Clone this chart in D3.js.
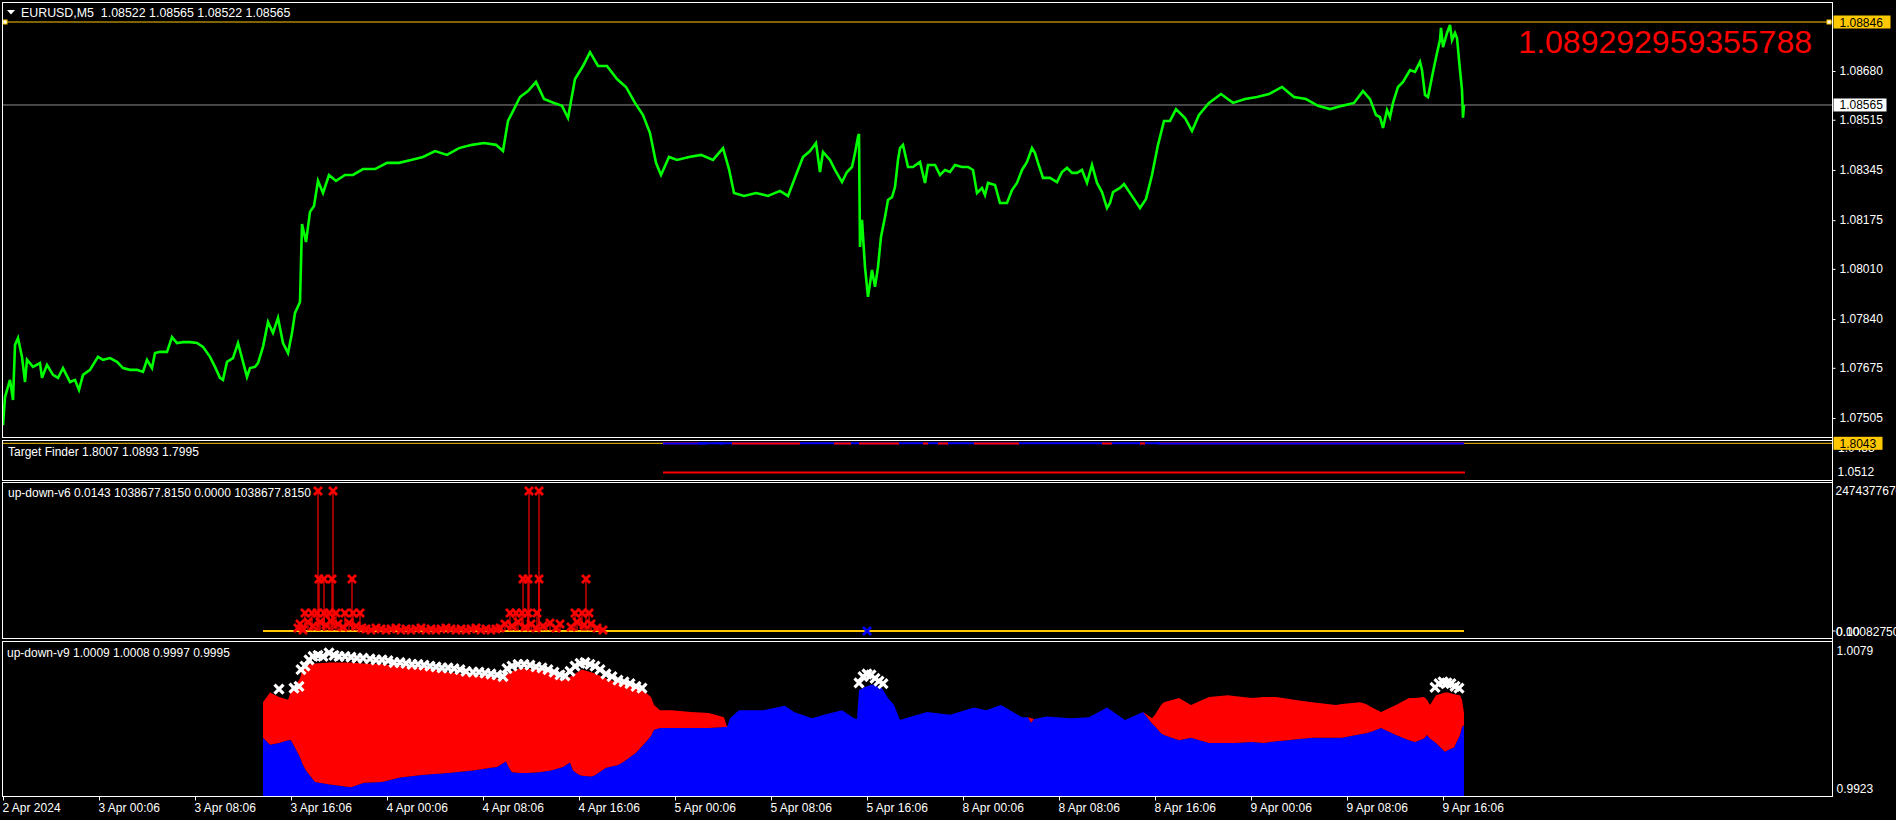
<!DOCTYPE html>
<html>
<head>
<meta charset="utf-8">
<script src="https://cdn.jsdelivr.net/npm/d3@7"></script>
<style>
  html, body { margin: 0; padding: 0; background: #000; overflow: hidden; }
  svg { display: block; font-family: "Liberation Sans", Arial, sans-serif; }
</style>
</head>
<body>
<svg id="chart" width="1896" height="820"></svg>
<script>
// ---- data ----
const symbolTitle = "EURUSD,M5  1.08522 1.08565 1.08522 1.08565";
const bigLevelText = "1.089292959355788";

// close price per bar index (M5 bars, one pixel each)
const closeSeries = [
  [0,1.07481],[2,1.07576],[7,1.07634],[10,1.07566],[12,1.07752],[15,1.07776],[19,1.07712],[22,1.07627],[24,1.07702],[30,1.07678],
  [37,1.07691],[39,1.07641],[44,1.07685],[50,1.07651],[55,1.07641],[60,1.07674],[67,1.07627],[72,1.07634],[76,1.07600],[80,1.07651],
  [87,1.07668],[95,1.07712],[100,1.07702],[107,1.07708],[114,1.07695],[120,1.07674],[127,1.07668],[134,1.07668],[140,1.07661],[144,1.07702],
  [149,1.07674],[152,1.07725],[157,1.07729],[164,1.07729],[169,1.07779],[174,1.07759],[180,1.07762],[187,1.07762],[194,1.07759],[200,1.07746],
  [207,1.07712],[212,1.07678],[217,1.07641],[220,1.07634],[224,1.07695],[230,1.07708],[235,1.07759],[239,1.07708],[244,1.07644],[247,1.07674],
  [252,1.07678],[255,1.07691],[260,1.07746],[265,1.07830],[270,1.07793],[275,1.07844],[280,1.07759],[285,1.07725],[289,1.07793],[292,1.07861],
  [297,1.07898],[299,1.08162],[303,1.08101],[307,1.08203],[311,1.08223],[315,1.08308],[320,1.08267],[326,1.08328],[333,1.08308],[342,1.08328],
  [350,1.08328],[360,1.08348],[372,1.08348],[384,1.08369],[396,1.08369],[408,1.08379],[420,1.08389],[432,1.08409],[444,1.08396],[456,1.08419],
  [469,1.08430],[481,1.08436],[493,1.08430],[500,1.08409],[505,1.08511],[511,1.08551],[517,1.08592],[525,1.08612],[533,1.08643],[541,1.08585],
  [551,1.08572],[559,1.08562],[565,1.08521],[572,1.08653],[580,1.08697],[587,1.08744],[595,1.08697],[604,1.08697],[614,1.08653],[623,1.08626],
  [632,1.08572],[640,1.08531],[647,1.08470],[653,1.08369],[658,1.08328],[666,1.08389],[674,1.08379],[686,1.08389],[698,1.08396],[710,1.08379],
  [720,1.08419],[726,1.08348],[731,1.08267],[741,1.08257],[753,1.08267],[765,1.08257],[777,1.08274],[785,1.08257],[793,1.08328],[800,1.08389],
  [807,1.08409],[813,1.08436],[817,1.08338],[820,1.08406],[827,1.08379],[832,1.08345],[839,1.08304],[844,1.08338],[849,1.08355],[852,1.08402],
  [855,1.08457],[856,1.08467],[857,1.08084],[859,1.08176],[862,1.08016],[865,1.07915],[869,1.08006],[872,1.07949],[875,1.08016],[878,1.08118],
  [882,1.08186],[885,1.08243],[889,1.08253],[892,1.08287],[895,1.08379],[897,1.08419],[900,1.08430],[905,1.08355],[910,1.08355],[917,1.08372],
  [922,1.08301],[925,1.08362],[932,1.08362],[937,1.08328],[942,1.08345],[947,1.08338],[952,1.08362],[959,1.08355],[965,1.08355],[970,1.08345],
  [974,1.08267],[979,1.08284],[982,1.08260],[985,1.08301],[992,1.08294],[997,1.08233],[1004,1.08233],[1009,1.08277],[1014,1.08301],[1019,1.08345],
  [1024,1.08372],[1029,1.08419],[1032,1.08402],[1035,1.08369],[1040,1.08318],[1047,1.08318],[1054,1.08304],[1059,1.08338],[1064,1.08352],[1069,1.08335],
  [1074,1.08335],[1079,1.08345],[1084,1.08301],[1089,1.08362],[1094,1.08301],[1099,1.08270],[1104,1.08216],[1107,1.08233],[1110,1.08270],[1117,1.08284],
  [1121,1.08297],[1131,1.08247],[1137,1.08216],[1143,1.08247],[1149,1.08328],[1155,1.08430],[1161,1.08511],[1167,1.08511],[1173,1.08551],[1182,1.08521],
  [1189,1.08477],[1196,1.08531],[1206,1.08572],[1218,1.08602],[1230,1.08572],[1242,1.08585],[1254,1.08592],[1266,1.08602],[1279,1.08626],[1291,1.08592],
  [1303,1.08585],[1315,1.08562],[1327,1.08551],[1339,1.08562],[1351,1.08572],[1360,1.08612],[1367,1.08585],[1373,1.08531],[1377,1.08524],[1380,1.08487],
  [1384,1.08548],[1387,1.08524],[1390,1.08572],[1395,1.08626],[1400,1.08643],[1407,1.08683],[1412,1.08677],[1417,1.08711],[1419,1.08683],[1422,1.08599],
  [1425,1.08592],[1429,1.08660],[1430,1.08677],[1434,1.08741],[1437,1.08785],[1438,1.08826],[1440,1.08761],[1444,1.08809],[1447,1.08836],[1449,1.08785],
  [1452,1.08809],[1454,1.08792],[1457,1.08683],[1459,1.08616],[1460,1.08522],[1461,1.08565]
];
const highLevel = 1.08846;
const lastClose = 1.08565;
const priceTicks = [1.08680, 1.08515, 1.08345, 1.08175, 1.08010, 1.07840, 1.07675, 1.07505];

// time axis
const timeTickBars = [0, 96, 192, 288, 384, 480, 576, 672, 768, 864, 960, 1056, 1152, 1248, 1344, 1440];
const timeLabels = ["2 Apr 2024", "3 Apr 00:06", "3 Apr 08:06", "3 Apr 16:06", "4 Apr 00:06", "4 Apr 08:06",
  "4 Apr 16:06", "5 Apr 00:06", "5 Apr 08:06", "5 Apr 16:06", "8 Apr 00:06", "8 Apr 08:06",
  "8 Apr 16:06", "9 Apr 00:06", "9 Apr 08:06", "9 Apr 16:06"];

// Target Finder pane
const tfTitle = "Target Finder 1.8007 1.0893 1.7995";
const tfLevel = 1.8043;
const tfUpper = 1.8070, tfLower = 1.8017, tfBase = 1.0362;
const tfUpperRed = [[660, 695], [1157, 1461]];
const tfUpperBlue = [[695, 1157]];
const tfLowerBlue = [[660, 704], [716, 720], [1155, 1461]];
const tfLowerRed = [[729, 797], [831, 848], [856, 896], [920, 925], [935, 945], [971, 1016], [1099, 1109], [1137, 1142]];
const tfBaseRange = [660, 1462];
const tfAxisMin = 1.0512;

// up-down-v6 pane: [bar, value]
const v6Title = "up-down-v6 0.0143 1038677.8150 0.0000 1038677.8150";
const v6Max = 2474377670;
const v6Red = [
  [315,2474377670],[330,2474377670],[526,2474377670],[536,2474377670],
  [316,919000000],[321,919000000],[329,919000000],[349,919000000],[520,919000000],[525,919000000],[536,919000000],[583,919000000],
  [302,318000000],[309,318000000],[314,318000000],[321,318000000],[326,318000000],[333,318000000],[342,318000000],[350,318000000],[357,318000000],
  [507,318000000],[513,318000000],[519,318000000],[525,318000000],[534,318000000],[572,318000000],[579,318000000],[586,318000000],
  [295,53000000],[297,124000000],[300,18000000],[305,159000000],[310,88000000],[317,159000000],[323,106000000],[328,177000000],[335,124000000],
  [340,71000000],[346,141000000],[353,88000000],[359,53000000],
  [363,35000000],[368,18000000],[373,53000000],[378,35000000],[383,18000000],[388,35000000],[393,53000000],[398,18000000],[403,35000000],
  [408,18000000],[413,35000000],[418,53000000],[423,18000000],[428,35000000],[433,18000000],[438,35000000],[443,53000000],[448,35000000],
  [453,18000000],[458,35000000],[463,18000000],[468,35000000],[473,53000000],[478,18000000],[483,35000000],[488,18000000],[493,35000000],[497,53000000],
  [502,124000000],[509,88000000],[515,159000000],[522,71000000],[528,124000000],[533,53000000],[540,88000000],[547,141000000],[553,53000000],
  [557,124000000],[568,71000000],[574,159000000],[581,106000000],[588,124000000],[594,53000000],[600,18000000]
];
const v6Blue = [[864, 0]];
const v6BaseRange = [260, 1461];

// up-down-v9 pane: [bar, upper, lower]; red between lower and upper, blue below lower
const v9Title = "up-down-v9 1.0009 1.0008 0.9997 0.9995";
const v9Min = 0.9923, v9Max = 1.0079;
const v9Series = [
  [260,1.0021,0.9981],[267,1.0032,0.9973],[276,1.0027,0.9975],[285,1.0024,0.9978],[288,1.0033,0.9978],[297,1.0048,0.9959],
  [300,1.0061,0.9950],[303,1.0063,0.9944],[312,1.0065,0.9931],[327,1.0066,0.9928],[348,1.0066,0.9925],[361,1.0065,0.9930],
  [379,1.0064,0.9931],[397,1.0062,0.9936],[421,1.0060,0.9939],[445,1.0055,0.9941],[470,1.0052,0.9944],[488,1.0050,0.9947],
  [494,1.0048,0.9948],[500,1.0046,0.9952],[503,1.0051,0.9954],[506,1.0054,0.9947],[509,1.0056,0.9942],[518,1.0060,0.9941],
  [524,1.0059,0.9941],[536,1.0058,0.9942],[548,1.0054,0.9944],[560,1.0046,0.9948],[567,1.0050,0.9953],[570,1.0052,0.9944],
  [576,1.0056,0.9939],[579,1.0058,0.9938],[588,1.0055,0.9937],[591,1.0054,0.9938],[603,1.0048,0.9947],[615,1.0043,0.9950],
  [621,1.0041,0.9954],[633,1.0038,0.9964],[642,1.0033,0.9975],[648,1.0027,0.9983],[651,1.0018,0.9990],[657,1.0012,0.9992],
  [669,1.0012,0.9992],[688,1.0010,0.9992],[706,1.0009,0.9992],[721,1.0004,0.9993],[724,0.9993,0.9993],
  [727,1.0003,1.0003],[736,1.0012,1.0012],[760,1.0012,1.0012],[782,1.0017,1.0017],[791,1.0010,1.0010],[809,1.0003,1.0003],
  [821,1.0007,1.0007],[839,1.0012,1.0012],[851,1.0003,1.0003],[854,1.0002,1.0002],[856,1.0035,1.0035],[863,1.0039,1.0039],
  [869,1.0041,1.0041],[879,1.0037,1.0037],[885,1.0026,1.0026],[891,1.0018,1.0018],[897,1.0001,1.0001],[906,1.0004,1.0004],
  [924,1.0010,1.0010],[947,1.0007,1.0007],[971,1.0015,1.0015],[983,1.0012,1.0012],[998,1.0018,1.0018],[1007,1.0012,1.0012],
  [1019,1.0004,1.0004],[1025,1.0004,1.0004],[1028,1.0003,0.9998],[1031,1.0002,1.0002],[1044,1.0005,1.0005],[1068,1.0003,1.0003],
  [1086,1.0004,1.0004],[1104,1.0015,1.0015],[1122,1.0001,1.0001],[1140,1.0010,1.0010],[1149,1.0003,0.9997],
  [1152,1.0007,0.9994],[1158,1.0018,0.9986],[1161,1.0021,0.9984],[1176,1.0026,0.9978],[1188,1.0018,0.9981],[1206,1.0027,0.9975],
  [1225,1.0029,0.9975],[1231,1.0028,0.9975],[1249,1.0026,0.9976],[1261,1.0027,0.9975],[1273,1.0027,0.9977],[1285,1.0025,0.9978],
  [1291,1.0024,0.9979],[1309,1.0021,0.9981],[1333,1.0018,0.9981],[1339,1.0019,0.9981],[1357,1.0021,0.9985],[1363,1.0019,0.9986],
  [1369,1.0015,0.9988],[1378,1.0010,0.9992],[1393,1.0018,0.9984],[1406,1.0026,0.9978],[1412,1.0026,0.9976],[1421,1.0027,0.9980],
  [1424,1.0024,0.9984],[1427,1.0018,0.9980],[1433,1.0029,0.9975],[1442,1.0032,0.9965],[1445,1.0032,0.9967],[1451,1.0030,0.9970],
  [1457,1.0029,0.9984],[1459,1.0024,0.9993],[1461,1.0009,0.9995]
];
const v9Marks = [
  [276,1.0036],[291,1.0037],[296,1.0039],[298,1.0058],[302,1.0062],[306,1.0069],[310,1.0073],[315,1.0074],[320,1.0073],[326,1.0077],
  [331,1.0074],[336,1.0073],[342,1.0073],[348,1.0072],[354,1.0071],[360,1.0071],[367,1.0070],[373,1.0069],[379,1.0069],[385,1.0068],
  [391,1.0066],[397,1.0066],[403,1.0065],[409,1.0064],[415,1.0064],[421,1.0063],[427,1.0062],[433,1.0061],[439,1.0060],[445,1.0060],
  [451,1.0059],[457,1.0058],[463,1.0056],[470,1.0055],[476,1.0055],[482,1.0054],[488,1.0053],[494,1.0052],[500,1.0050],[504,1.0059],
  [509,1.0062],[515,1.0064],[521,1.0064],[527,1.0063],[533,1.0061],[539,1.0060],[545,1.0058],[551,1.0055],[557,1.0052],[562,1.0051],
  [567,1.0056],[572,1.0062],[577,1.0065],[582,1.0066],[587,1.0064],[592,1.0062],[597,1.0058],[603,1.0053],[609,1.0050],[615,1.0046],
  [621,1.0044],[627,1.0042],[633,1.0039],[639,1.0037],
  [856,1.0043],[860,1.0050],[864,1.0053],[868,1.0052],[872,1.0048],[876,1.0045],[880,1.0042],
  [1432,1.0038],[1436,1.0042],[1440,1.0044],[1444,1.0043],[1448,1.0042],[1452,1.0039],[1456,1.0037]
];

// ---- layout ----
const W = 1896, H = 820;
const left = 2.5, right = 1832.5;
const panes = {
  main: { top: 2.5, bottom: 437.5 },
  tf:   { top: 440.5, bottom: 480.5 },
  v6:   { top: 482.5, bottom: 638.5 },
  v9:   { top: 641.5, bottom: 796.5 }
};
const WHITE = "#ffffff", GOLD = "#ffc800", RED = "#ff0000", BLUE = "#0000ff", GREEN = "#00ff00";

let svg = d3.select("#chart");
svg.append("rect").attr("width", W).attr("height", H).attr("fill", "#000");

let x = d3.scaleLinear().domain([0, 1461]).range([3, 1464]);
let yMain = d3.scaleLinear().domain([1.07505, 1.08846]).range([418, 22]);
let yTf = d3.scaleLinear().domain([tfAxisMin, tfLevel]).range([472, 443.3]);
let yV6 = d3.scaleLinear().domain([0, v6Max]).range([631, 491]);
let yV9 = d3.scaleLinear().domain([v9Min, v9Max]).range([789, 651]);

let defs = svg.append("defs");
Object.entries(panes).forEach(([k, p]) => {
  defs.append("clipPath").attr("id", "clip-" + k)
    .append("rect").attr("x", left).attr("y", p.top).attr("width", right - left).attr("height", p.bottom - p.top);
});

function xMark(s) { return `M${-s},${-s}L${s},${s}M${-s},${s}L${s},${-s}`; }

// ---- main pane ----
let gMain = svg.append("g").attr("clip-path", "url(#clip-main)");

gMain.append("line")
  .attr("x1", left).attr("x2", right)
  .attr("y1", yMain(lastClose)).attr("y2", yMain(lastClose))
  .attr("stroke", "#8c8c8c").attr("stroke-width", 1);

gMain.append("line")
  .attr("x1", left).attr("x2", right)
  .attr("y1", yMain(highLevel)).attr("y2", yMain(highLevel))
  .attr("stroke", GOLD).attr("stroke-width", 1.2);

gMain.append("path")
  .datum(closeSeries)
  .attr("fill", "none")
  .attr("stroke", GREEN)
  .attr("stroke-width", 2.6)
  .attr("stroke-linejoin", "miter")
  .attr("d", d3.line().x(d => x(d[0])).y(d => yMain(d[1])));

[5, 1829].forEach(px => {
  gMain.append("rect")
    .attr("x", px - 2).attr("y", yMain(highLevel) - 2)
    .attr("width", 4).attr("height", 4)
    .attr("fill", "#fff").attr("stroke", GOLD).attr("stroke-width", 1);
});

svg.append("text")
  .attr("x", 1812).attr("y", 53)
  .attr("text-anchor", "end")
  .attr("font-size", 32)
  .attr("fill", RED)
  .text(bigLevelText);

svg.append("path").attr("d", "M7,10L15,10L11,14.5Z").attr("fill", WHITE);
svg.append("text")
  .attr("x", 21).attr("y", 16.5)
  .attr("font-size", 12.4)
  .attr("fill", WHITE)
  .attr("xml:space", "preserve")
  .style("white-space", "pre")
  .text(symbolTitle);

// ---- Target Finder pane ----
let gTf = svg.append("g").attr("clip-path", "url(#clip-tf)");
gTf.append("line")
  .attr("x1", left).attr("x2", right)
  .attr("y1", yTf(tfLevel)).attr("y2", yTf(tfLevel))
  .attr("stroke", GOLD).attr("stroke-width", 1);

function tfSegments(ranges, level, color) {
  gTf.selectAll(null)
    .data(ranges)
    .enter().append("line")
    .attr("x1", d => x(d[0])).attr("x2", d => x(d[1]))
    .attr("y1", yTf(level)).attr("y2", yTf(level))
    .attr("stroke", color).attr("stroke-width", 2);
}
tfSegments(tfUpperRed, tfUpper, RED);
tfSegments(tfUpperBlue, tfUpper, BLUE);
tfSegments(tfLowerBlue, tfLower, BLUE);
tfSegments(tfLowerRed, tfLower, RED);
tfSegments([tfBaseRange], tfBase, RED);

svg.append("text")
  .attr("x", 8).attr("y", 456)
  .attr("font-size", 12).attr("fill", WHITE)
  .text(tfTitle);

// ---- up-down-v6 pane ----
let gV6 = svg.append("g").attr("clip-path", "url(#clip-v6)");
gV6.append("line")
  .attr("x1", x(v6BaseRange[0])).attr("x2", x(v6BaseRange[1]))
  .attr("y1", yV6(0)).attr("y2", yV6(0))
  .attr("stroke", GOLD).attr("stroke-width", 2);

gV6.selectAll(".stem")
  .data(v6Red)
  .enter().append("line")
  .attr("class", "stem")
  .attr("x1", d => x(d[0])).attr("x2", d => x(d[0]))
  .attr("y1", yV6(0)).attr("y2", d => yV6(d[1]))
  .attr("stroke", RED).attr("stroke-width", 1.2);

gV6.selectAll(".redmark")
  .data(v6Red)
  .enter().append("path")
  .attr("class", "redmark")
  .attr("transform", d => `translate(${x(d[0])},${yV6(d[1])})`)
  .attr("d", xMark(4))
  .attr("stroke", RED).attr("stroke-width", 2.8).attr("fill", "none");

gV6.selectAll(".bluemark")
  .data(v6Blue)
  .enter().append("path")
  .attr("class", "bluemark")
  .attr("transform", d => `translate(${x(d[0])},${yV6(d[1])})`)
  .attr("d", xMark(4))
  .attr("stroke", BLUE).attr("stroke-width", 2.8).attr("fill", "none");

svg.append("text")
  .attr("x", 8).attr("y", 497)
  .attr("font-size", 12).attr("fill", WHITE)
  .text(v6Title);

// ---- up-down-v9 pane ----
let gV9 = svg.append("g").attr("clip-path", "url(#clip-v9)");
gV9.append("path")
  .datum(v9Series)
  .attr("fill", BLUE)
  .attr("d", d3.area().x(d => x(d[0])).y0(panes.v9.bottom).y1(d => yV9(d[2])));

gV9.append("path")
  .datum(v9Series)
  .attr("fill", RED)
  .attr("d", d3.area().x(d => x(d[0])).y0(d => yV9(d[2])).y1(d => yV9(d[1])));

gV9.selectAll(".whitemark")
  .data(v9Marks)
  .enter().append("path")
  .attr("class", "whitemark")
  .attr("transform", d => `translate(${x(d[0])},${yV9(d[1])})`)
  .attr("d", xMark(4.5))
  .attr("stroke", WHITE).attr("stroke-width", 3.2).attr("fill", "none");

svg.append("text")
  .attr("x", 7).attr("y", 657)
  .attr("font-size", 12).attr("fill", WHITE)
  .text(v9Title);

// ---- pane frames ----
Object.values(panes).forEach(p => {
  svg.append("rect")
    .attr("x", left).attr("y", p.top)
    .attr("width", right - left).attr("height", p.bottom - p.top)
    .attr("fill", "none").attr("stroke", WHITE).attr("stroke-width", 1);
});

// ---- axes ----
function styleAxis(g) {
  g.select(".domain").remove();
  g.selectAll(".tick line").attr("stroke", WHITE);
  g.selectAll(".tick text")
    .attr("fill", WHITE)
    .attr("font-size", 12)
    .attr("font-family", "Liberation Sans, Arial, sans-serif");
}

svg.append("g")
  .attr("transform", `translate(${right},0)`)
  .call(d3.axisRight(yMain).tickValues(priceTicks).tickFormat(d3.format(".5f")).tickSize(3).tickPadding(4))
  .call(styleAxis);

svg.append("g")
  .attr("transform", `translate(${right},0)`)
  .call(d3.axisRight(yTf).tickValues([tfAxisMin]).tickFormat(d3.format(".4f")).tickSize(0).tickPadding(5))
  .call(styleAxis);

svg.append("g")
  .attr("transform", `translate(${right},0)`)
  .call(d3.axisRight(yV6).tickValues([v6Max]).tickFormat(d3.format("d")).tickSize(0).tickPadding(3))
  .call(styleAxis);

// overlapped bottom labels of the v6 scale
["0.00082750", "0.10"].forEach(t => {
  svg.append("text")
    .attr("x", 1836).attr("y", yV6(0) + 5)
    .attr("font-size", 12).attr("fill", WHITE)
    .text(t);
});
svg.append("line")
  .attr("x1", right).attr("x2", right + 3)
  .attr("y1", yV6(0)).attr("y2", yV6(0))
  .attr("stroke", WHITE);

svg.append("g")
  .attr("transform", `translate(${right},0)`)
  .call(d3.axisRight(yV9).tickValues([v9Max, v9Min]).tickFormat(d3.format(".4f")).tickSize(0).tickPadding(4))
  .call(styleAxis);

let timeAxis = svg.append("g")
  .attr("transform", `translate(0,${panes.v9.bottom})`)
  .call(d3.axisBottom(x).tickValues(timeTickBars).tickFormat((d, i) => timeLabels[i]).tickSize(4).tickPadding(3))
  .call(styleAxis);
timeAxis.selectAll(".tick text").attr("text-anchor", "start").attr("dx", -1);

// right axis line
svg.append("line")
  .attr("x1", right).attr("x2", right)
  .attr("y1", 2.5).attr("y2", panes.v9.bottom)
  .attr("stroke", WHITE);

// ---- value boxes on the price axis ----
function valueBox(y, text, bg, w) {
  svg.append("rect")
    .attr("x", right + 1).attr("y", y - 6.5)
    .attr("width", w).attr("height", 13)
    .attr("fill", bg);
  svg.append("text")
    .attr("x", right + 7).attr("y", y + 4.5)
    .attr("font-size", 12).attr("fill", "#000")
    .text(text);
}
valueBox(yMain(highLevel), d3.format(".5f")(highLevel), GOLD, 57);
valueBox(yMain(lastClose), d3.format(".5f")(lastClose), WHITE, 53);
svg.append("text")
  .attr("x", 1838).attr("y", yTf(tfLevel) + 8.5)
  .attr("font-size", 12).attr("fill", WHITE)
  .text("1.0488");
valueBox(yTf(tfLevel), d3.format(".4f")(tfLevel), GOLD, 49);
</script>
</body>
</html>
